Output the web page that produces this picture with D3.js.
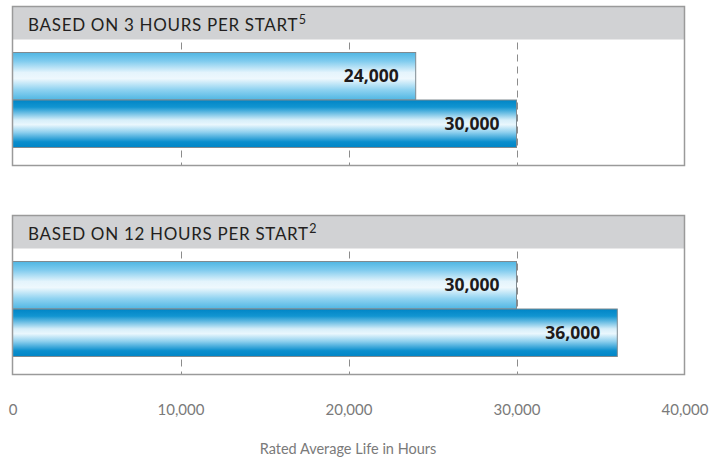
<!DOCTYPE html>
<html><head><meta charset="utf-8">
<script src="https://cdn.jsdelivr.net/npm/d3@7/dist/d3.min.js"></script>
<style>
html,body{margin:0;padding:0;background:#fff;}
svg{display:block;}
</style>
</head><body>
<svg id="chart" width="709" height="459"></svg>
<script>
// ---- data ----
const panelTitles = ["BASED ON 3 HOURS PER START", "BASED ON 12 HOURS PER START"];
const panelFootnotes = ["5", "2"];
const seriesKeys = ["light", "dark"];
const lightValues = [24000, 30000];
const darkValues = [30000, 36000];
const tickValues = [0, 10000, 20000, 30000, 40000];
const axisTitle = "Rated Average Life in Hours";

// ---- layout ----
const W = 709, H = 459;
const svg = d3.select("#chart");
const x = d3.scaleLinear().domain([0, 40000]).range([12.5, 684.5]);
const panelY = d3.scalePoint().domain(d3.range(panelTitles.length)).range([6.5, 215.5]);
const panelH = 159;
const headerH = 33;
const yBand = d3.scaleBand().domain(seriesKeys).range([46, 141]).paddingInner(0);

const defs = svg.append("defs");
function grad(id, stops) {
  const g = defs.append("linearGradient").attr("id", id)
    .attr("x1", 0).attr("y1", 0).attr("x2", 0).attr("y2", 1);
  stops.forEach(s => g.append("stop").attr("offset", s[0]).attr("stop-color", s[1]));
}
grad("g-light", [[0, "#4fb6e3"], [0.18, "#7fcbee"], [0.42, "#e4f4fc"], [0.55, "#eef8fd"], [0.78, "#90d3f1"], [1, "#4fb6e3"]]);
grad("g-dark", [[0, "#0085c6"], [0.15, "#1295d1"], [0.42, "#d6eef9"], [0.52, "#eaf7fd"], [0.68, "#8fd0ee"], [0.88, "#0a8ecd"], [1, "#0085c6"]]);

panelTitles.forEach((title, i) => {
  const g = svg.append("g").attr("transform", `translate(0,${panelY(i)})`);
  const vals = { light: lightValues[i], dark: darkValues[i] };

  g.append("rect").attr("x", x(0)).attr("y", 0)
    .attr("width", x(40000) - x(0)).attr("height", panelH)
    .attr("fill", "#fff");

  g.selectAll("line.grid").data(tickValues.slice(1, -1)).join("line")
    .attr("class", "grid")
    .attr("x1", d => Math.round(x(d)) + 0.5).attr("x2", d => Math.round(x(d)) + 0.5)
    .attr("y1", 0).attr("y2", panelH)
    .attr("stroke", "#8c8c8c").attr("stroke-width", 1)
    .attr("stroke-dasharray", "7,5");

  g.append("rect").attr("x", x(0)).attr("y", 0)
    .attr("width", x(40000) - x(0)).attr("height", headerH)
    .attr("fill", "#d1d2d4");

  const t = g.append("text").attr("x", 28).attr("y", 24.5)
    .attr("font-family", "Lato, 'Open Sans', sans-serif")
    .attr("font-size", 17).attr("fill", "#231f20")
    .attr("letter-spacing", 0.7);
  t.append("tspan").text(title);
  t.append("tspan").attr("font-size", 12.5).attr("dy", -7).attr("dx", 0.5).attr("letter-spacing", 0).text(panelFootnotes[i]);

  seriesKeys.forEach(k => {
    g.append("rect")
      .attr("x", x(0)).attr("y", yBand(k))
      .attr("width", x(vals[k]) - x(0)).attr("height", yBand.bandwidth())
      .attr("fill", `url(#g-${k})`)
      .attr("stroke", "#7f8a90").attr("stroke-width", 1);
    g.append("text")
      .attr("x", x(vals[k]) - 17).attr("y", yBand(k) + yBand.bandwidth() / 2 + 6)
      .attr("text-anchor", "end")
      .attr("font-family", "'Open Sans', sans-serif").attr("font-weight", 700)
      .attr("font-size", 17.5).attr("fill", "#1e1b1c")
      .text(d3.format(",")(vals[k]));
  });

  g.append("rect").attr("x", x(0)).attr("y", 0)
    .attr("width", x(40000) - x(0)).attr("height", panelH)
    .attr("fill", "none").attr("stroke", "#9a9a9a").attr("stroke-width", 1.5);
});

const axis = svg.append("g").attr("transform", "translate(0,415)")
  .call(d3.axisBottom(x).tickValues(tickValues).tickFormat(d3.format(",")).tickSize(0).tickPadding(0));
axis.select(".domain").remove();
axis.selectAll("text")
  .attr("dy", 0)
  .attr("font-family", "Lato, 'Open Sans', sans-serif")
  .attr("font-size", 15).attr("fill", "#7a7a7a");

svg.append("text").attr("x", 348).attr("y", 454)
  .attr("text-anchor", "middle")
  .attr("font-family", "Lato, 'Open Sans', sans-serif")
  .attr("font-size", 14.5).attr("fill", "#7a7a7a")
  .text(axisTitle);
</script>
</body></html>
